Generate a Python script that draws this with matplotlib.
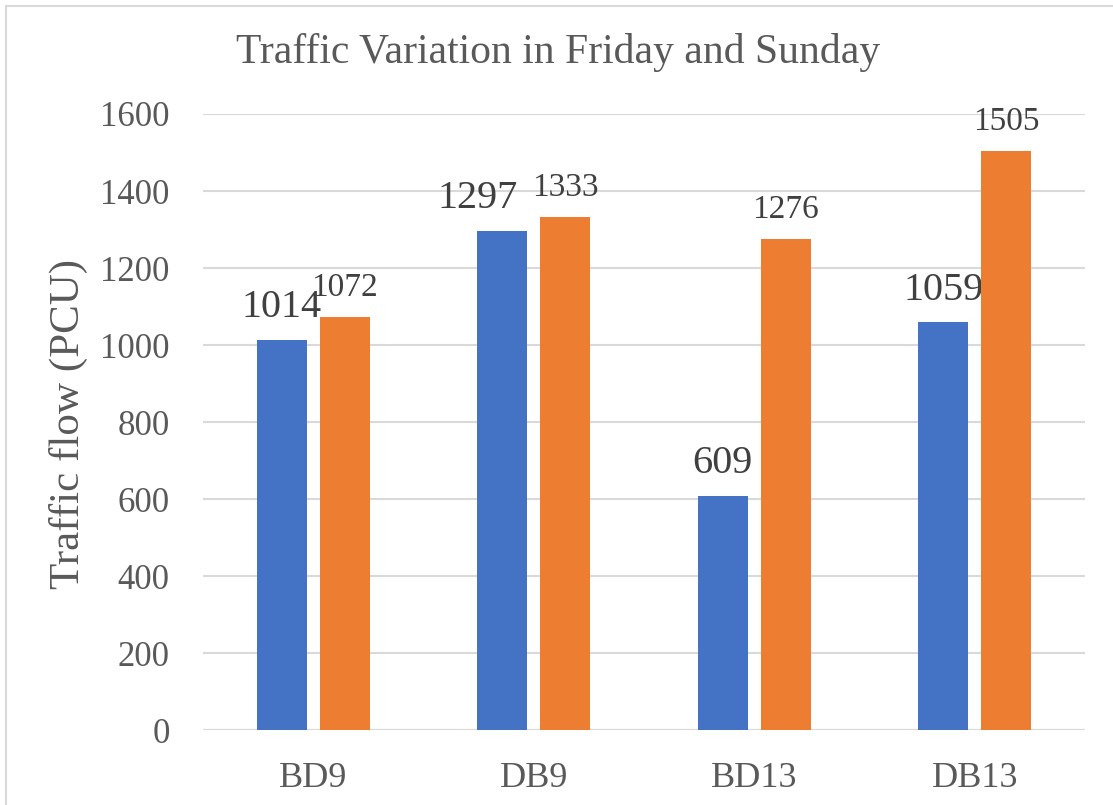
import numpy as np
import matplotlib.pyplot as plt
from matplotlib.patches import Rectangle

## data
categories = ["BD9", "DB9", "BD13", "DB13"]
friday = [1014, 1297, 609, 1059]
sunday = [1072, 1333, 1276, 1505]
yticks = [0, 200, 400, 600, 800, 1000, 1200, 1400, 1600]

blue = "#4472C4"
orange = "#ED7D31"
text_col = "#595959"
grid_col = "#D9D9D9"

plt.rcParams["font.family"] = ["Liberation Serif", "DejaVu Serif"]

fig = plt.figure(figsize=(11.13, 8.05), dpi=100)
ax = fig.add_axes([203 / 1113, 75 / 805, 882 / 1113, 616 / 805])

x = np.arange(len(categories))
w = 0.227
off = (w + 0.059) / 2
ax.bar(x - off, friday, w, color=blue, zorder=3)
ax.bar(x + off, sunday, w, color=orange, zorder=3)

## value labels (drawn under the bars, like the original)
## the DB9 friday label is nudged left, as in the original
nudge = [0, -18, 0, 0]
for xi, v, dx in zip(x, friday, nudge):
    ax.annotate(str(v), (xi - off, v), xytext=(dx, 16), textcoords="offset points",
                ha="center", va="baseline", fontsize=29, color="#404040", zorder=1)
for xi, v in zip(x, sunday):
    ax.annotate(str(v), (xi + off, v), xytext=(0, 15), textcoords="offset points",
                ha="center", va="baseline", fontsize=24, color="#404040", zorder=1)

ax.set_xlim(-0.5, len(categories) - 0.5)
ax.set_ylim(0, 1600)
ax.set_xticks(x)
ax.set_xticklabels(categories)
ax.set_yticks(yticks)
ax.yaxis.grid(True, color=grid_col, linewidth=1.5, zorder=0)
ax.set_axisbelow(True)
for s in ax.spines.values():
    s.set_visible(False)
ax.tick_params(axis="both", length=0, colors=text_col, labelsize=25)
ax.tick_params(axis="y", pad=24)
ax.tick_params(axis="x", pad=23, labelsize=26)
ax.axhline(0, color=grid_col, linewidth=1.5, zorder=2)

fig.text(558 / 1113, 1 - 63 / 805, "Traffic Variation in Friday and Sunday",
         ha="center", va="baseline", fontsize=30, color=text_col)
fig.text(68 / 1113, 1 - 424 / 805, "Traffic flow (PCU)", rotation=90,
         ha="center", va="center", fontsize=31, color=text_col)

## chart border
fig.patches.append(Rectangle((6 / 1113, -0.1), 1.2, 1 - 6 / 805 + 0.1,
                             transform=fig.transFigure, fill=False,
                             edgecolor=grid_col, linewidth=1.5))

fig.savefig("out.png", dpi=100)
